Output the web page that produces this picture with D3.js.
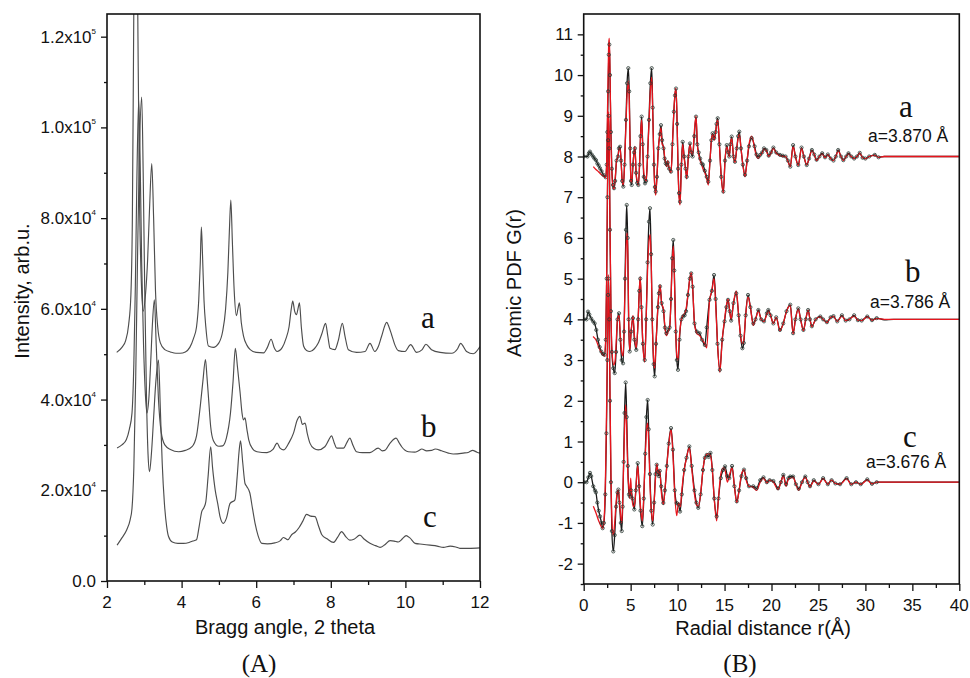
<!DOCTYPE html>
<html><head><meta charset="utf-8">
<script src="https://cdn.jsdelivr.net/npm/d3@7"></script>
<style>body{margin:0;background:#fff}svg{display:block}</style>
</head><body>
<svg id="chart" width="970" height="678"></svg>
<script>
// ---------- Panel A: XRD patterns (2theta, intensity) ----------
const xrdTicksX = [2, 4, 6, 8, 10, 12];
const xrdTicksY = [0, 20000, 40000, 60000, 80000, 100000, 120000];
const xrdTickLabelsY = [["0.0", ""], ["2.0x10", "4"], ["4.0x10", "4"], ["6.0x10", "4"], ["8.0x10", "4"], ["1.0x10", "5"], ["1.2x10", "5"]];
const xrdNames = ["a", "b", "c"];

const xrdA = [[2.26,50400],[2.40,51500],[2.50,53000],[2.58,56500],[2.64,63000],[2.68,80000],[2.71,115000],[2.74,150000],[2.77,165000],[2.80,150000],[2.83,120000],[2.87,85000],[2.92,66000],[2.97,59500],[3.03,63000],[3.09,71000],[3.14,82000],[3.20,92000],[3.25,80000],[3.30,64000],[3.36,56000],[3.43,52500],[3.55,51000],[3.70,50500],[3.85,50200],[3.96,50200],[4.10,50500],[4.22,51500],[4.32,53500],[4.40,56000],[4.46,62000],[4.50,70000],[4.53,78000],[4.56,72000],[4.60,62000],[4.65,56000],[4.72,51800],[4.85,51500],[5.00,52500],[5.10,55000],[5.18,60000],[5.24,68000],[5.28,77000],[5.32,84000],[5.36,75000],[5.41,64000],[5.47,58500],[5.51,60000],[5.55,61300],[5.60,57000],[5.66,54000],[5.75,52000],[5.84,51000],[6.00,50400],[6.20,50300],[6.30,51500],[6.40,53300],[6.48,51500],[6.56,50600],[6.70,51500],[6.80,53500],[6.88,56000],[6.94,60000],[6.98,61700],[7.03,59500],[7.08,58700],[7.12,60000],[7.16,61300],[7.21,56000],[7.27,51800],[7.35,50800],[7.44,50600],[7.56,51200],[7.66,52400],[7.76,54500],[7.86,56800],[7.92,54000],[7.98,51300],[8.11,51000],[8.20,53000],[8.31,56800],[8.38,54000],[8.47,51000],[8.69,50400],[8.92,50600],[9.05,52400],[9.18,50600],[9.28,51800],[9.36,53900],[9.50,57000],[9.56,56000],[9.63,54300],[9.72,52000],[9.81,50800],[9.99,50600],[10.14,52100],[10.30,50400],[10.45,51000],[10.55,52200],[10.70,51000],[10.93,50400],[11.24,50200],[11.40,51200],[11.48,52400],[11.64,50600],[11.82,50100],[12.00,51700]];

const xrdB = [[2.27,29300],[2.40,30000],[2.52,31200],[2.60,33500],[2.67,37000],[2.72,48000],[2.76,65000],[2.80,88000],[2.85,106000],[2.89,92000],[2.93,70000],[2.98,52000],[3.03,41000],[3.07,37000],[3.12,40000],[3.17,48000],[3.22,57000],[3.27,62000],[3.32,52000],[3.38,40000],[3.45,33000],[3.55,30000],[3.70,29000],[3.92,28500],[4.10,28800],[4.28,29600],[4.40,32000],[4.50,38500],[4.57,44000],[4.64,48800],[4.68,45000],[4.72,40600],[4.78,34000],[4.85,31000],[5.00,29700],[5.10,29800],[5.20,31500],[5.31,37000],[5.38,44000],[5.44,51300],[5.50,47000],[5.57,41400],[5.62,37000],[5.66,35500],[5.70,36000],[5.75,33500],[5.80,31100],[5.90,29200],[6.02,28500],[6.29,28300],[6.45,29000],[6.56,30400],[6.64,29300],[6.74,28900],[6.88,30500],[7.00,32600],[7.10,35500],[7.17,36300],[7.24,34500],[7.31,34800],[7.37,32500],[7.44,30400],[7.55,29200],[7.66,28900],[7.84,29600],[7.94,31000],[8.02,32000],[8.09,30500],[8.16,29300],[8.34,29300],[8.43,30500],[8.51,31500],[8.60,29800],[8.69,28500],[8.85,28300],[9.05,28300],[9.27,29300],[9.38,28700],[9.45,28800],[9.59,30400],[9.75,31500],[9.83,30500],[9.90,29600],[10.08,28500],[10.25,28400],[10.35,28700],[10.44,29100],[10.57,28700],[10.70,28800],[10.80,29100],[10.97,28700],[11.15,28200],[11.28,28000],[11.55,28200],[11.70,28400],[11.80,28800],[11.92,28400],[12.00,28200]];

const xrdC = [[2.27,7900],[2.40,9500],[2.53,11300],[2.62,13500],[2.67,16000],[2.72,25000],[2.77,45000],[2.82,72000],[2.87,95000],[2.93,106700],[2.97,90000],[3.01,65000],[3.06,40000],[3.10,28000],[3.14,24100],[3.19,28000],[3.25,36000],[3.31,44000],[3.38,48700],[3.43,38000],[3.48,26000],[3.54,17000],[3.60,12000],[3.65,9800],[3.75,8600],[3.90,8300],[4.05,8300],[4.20,8500],[4.30,8800],[4.40,9100],[4.47,12000],[4.54,15300],[4.60,16200],[4.65,17500],[4.71,23000],[4.78,29600],[4.83,25000],[4.90,20100],[4.97,17000],[5.03,14200],[5.12,12700],[5.20,13800],[5.30,17100],[5.43,17900],[5.49,23000],[5.54,28500],[5.58,30900],[5.64,26000],[5.70,21500],[5.75,20800],[5.83,19400],[5.90,16000],[5.97,12700],[6.05,10000],[6.15,8300],[6.30,8200],[6.50,8400],[6.65,8900],[6.73,9600],[6.80,9300],[6.85,9100],[6.95,10200],[7.05,10800],[7.15,11800],[7.25,13200],[7.35,14700],[7.46,14300],[7.58,14200],[7.66,12400],[7.76,10200],[7.90,9300],[8.07,8500],[8.18,9600],[8.29,10900],[8.40,9800],[8.51,9000],[8.62,9200],[8.78,10100],[8.90,9200],[9.05,8300],[9.20,7800],[9.32,7400],[9.45,8000],[9.59,8900],[9.70,8800],[9.81,8600],[9.92,9300],[10.02,10000],[10.12,9500],[10.26,8300],[10.45,8100],[10.66,7900],[10.85,7700],[11.02,7400],[11.20,7700],[11.35,7500],[11.46,7200],[11.70,7200],[12.00,7300]];

// ---------- Panel B: atomic PDF G(r) ----------
const pdfTicksX = [0, 5, 10, 15, 20, 25, 30, 35, 40];
const pdfTicksY = [-2, -1, 0, 1, 2, 3, 4, 5, 6, 7, 8, 9, 10, 11];
const pdfOffsets = [8, 4, 0];
const pdfNames = ["a", "b", "c"];
const pdfLattice = ["a=3.870 Å", "a=3.786 Å", "a=3.676 Å"];

const pdfObsA = [[0.0,0],[0.4,0],[0.55,0.08],[0.67,0.12],[0.85,0.05],[1.02,-0.005],[1.15,-0.05],[1.31,-0.09],[1.45,-0.17],[1.6,-0.22],[1.74,-0.29],[1.9,-0.36],[2.09,-0.45],[2.34,-0.51],[2.45,-0.2],[2.52,0.6],[2.6,1.6],[2.67,2.5],[2.73,2.75],[2.8,2.0],[2.9,0.6],[3.0,-0.3],[3.12,-0.7],[3.23,-0.78],[3.35,-0.6],[3.5,-0.1],[3.65,0.0],[3.75,0.2],[3.87,0.24],[3.98,-0.1],[4.1,-0.6],[4.22,-0.74],[4.35,-0.2],[4.5,0.9],[4.62,1.8],[4.75,2.17],[4.85,1.6],[4.95,0.2],[5.03,-0.6],[5.11,-0.7],[5.25,-0.2],[5.36,0.1],[5.46,0.2],[5.58,-0.4],[5.7,-0.65],[5.82,-0.7],[5.95,-0.2],[6.05,0.5],[6.17,0.98],[6.28,0.3],[6.4,-0.5],[6.53,-0.66],[6.65,-0.6],[6.8,0.0],[6.95,0.9],[7.1,1.8],[7.24,2.17],[7.35,1.2],[7.48,-0.2],[7.58,-0.75],[7.67,-0.86],[7.8,-0.5],[7.95,0.2],[8.1,0.55],[8.23,0.77],[8.35,0.4],[8.5,0.2],[8.62,-0.05],[8.73,-0.17],[8.85,-0.2],[8.95,-0.15],[9.1,-0.3],[9.3,-0.37],[9.45,0.3],[9.6,1.1],[9.72,1.5],[9.83,1.67],[9.95,0.8],[10.05,-0.3],[10.15,-0.9],[10.26,-1.11],[10.4,-0.2],[10.54,0.36],[10.7,0.0],[10.85,-0.3],[10.97,-0.5],[11.15,0.0],[11.32,0.32],[11.45,0.1],[11.6,0.0],[11.78,0.5],[11.96,0.98],[12.1,0.3],[12.25,0.1],[12.4,-0.05],[12.56,-0.17],[12.7,-0.2],[12.9,-0.35],[13.1,-0.5],[13.27,-0.62],[13.45,-0.1],[13.6,0.4],[13.73,0.57],[13.9,0.45],[14.05,0.6],[14.15,0.8],[14.27,0.94],[14.45,0.3],[14.65,-0.5],[14.87,-0.86],[15.05,-0.1],[15.23,0.28],[15.38,0.1],[15.5,0.0],[15.62,0.3],[15.76,0.49],[15.95,0.0],[16.11,-0.13],[16.3,0.2],[16.45,0.5],[16.57,0.61],[16.75,0.2],[16.95,-0.2],[17.18,-0.45],[17.4,-0.1],[17.6,0.25],[17.89,0.45],[18.2,0.25],[18.4,0.05],[18.6,-0.01],[18.8,0.04],[19.0,0.1],[19.2,0.2],[19.45,0.16],[19.7,0.02],[19.95,0.1],[20.2,0.22],[20.5,0.1],[20.9,0.04],[21.2,0.02],[21.5,0.0],[21.75,-0.1],[22.0,-0.25],[22.3,0.28],[22.55,0.0],[22.85,-0.21],[23.2,0.22],[23.45,0.0],[23.75,-0.21],[24.0,-0.05],[24.3,0.16],[24.55,0.05],[24.8,-0.08],[25.1,0.0],[25.4,0.08],[25.7,-0.02],[26.0,0.05],[26.3,-0.05],[26.6,-0.1],[26.85,0.0],[27.1,0.16],[27.4,0.0],[27.65,-0.09],[27.95,0.0],[28.2,0.08],[28.5,0.0],[28.8,-0.05],[29.1,0.0],[29.4,0.09],[29.7,-0.03],[30.0,-0.05],[30.4,0.0],[31.0,0.04],[31.4,-0.02],[32,0],[33,0],[34,0],[35,0],[36,0],[37,0],[38,0],[39,0],[40,0]];

const pdfFitA = [[1.02,-0.25],[1.3,-0.32],[1.6,-0.38],[1.9,-0.45],[2.2,-0.5],[2.34,-0.52],[2.45,-0.1],[2.52,0.9],[2.6,2.0],[2.67,2.8],[2.73,2.9],[2.8,2.1],[2.9,0.5],[3.0,-0.4],[3.12,-0.75],[3.23,-0.8],[3.35,-0.55],[3.5,-0.1],[3.65,0.0],[3.75,0.15],[3.87,0.22],[3.98,-0.1],[4.1,-0.6],[4.22,-0.7],[4.35,-0.2],[4.5,0.8],[4.62,1.5],[4.75,1.85],[4.85,1.4],[4.95,0.1],[5.03,-0.6],[5.11,-0.65],[5.25,-0.2],[5.36,0.1],[5.46,0.25],[5.58,-0.4],[5.7,-0.6],[5.82,-0.7],[5.95,-0.2],[6.05,0.5],[6.17,0.9],[6.28,0.3],[6.4,-0.4],[6.53,-0.55],[6.65,-0.6],[6.8,0.0],[6.95,0.8],[7.1,1.6],[7.24,1.95],[7.35,1.1],[7.48,-0.2],[7.58,-0.8],[7.67,-0.95],[7.8,-0.5],[7.95,0.2],[8.1,0.5],[8.23,0.7],[8.35,0.3],[8.5,0.25],[8.62,0.0],[8.73,-0.15],[8.85,-0.25],[8.95,-0.1],[9.1,-0.3],[9.3,-0.4],[9.45,0.3],[9.6,1.1],[9.72,1.55],[9.83,1.67],[9.95,0.8],[10.05,-0.3],[10.15,-1.0],[10.26,-1.19],[10.4,-0.3],[10.54,0.3],[10.7,-0.05],[10.85,-0.3],[10.97,-0.55],[11.15,0.0],[11.32,0.3],[11.45,0.1],[11.6,0.05],[11.78,0.6],[11.96,1.0],[12.1,0.3],[12.25,0.05],[12.4,-0.1],[12.56,-0.2],[12.7,-0.3],[12.9,-0.4],[13.1,-0.55],[13.27,-0.7],[13.45,-0.1],[13.6,0.4],[13.73,0.55],[13.9,0.4],[14.05,0.6],[14.15,0.8],[14.27,0.9],[14.45,0.3],[14.65,-0.5],[14.87,-0.9],[15.05,-0.1],[15.23,0.25],[15.38,0.1],[15.5,0.0],[15.62,0.3],[15.76,0.45],[15.95,0.0],[16.11,-0.15],[16.3,0.2],[16.45,0.45],[16.57,0.55],[16.75,0.2],[16.95,-0.2],[17.18,-0.5],[17.4,-0.1],[17.6,0.3],[17.89,0.5],[18.2,0.2],[18.4,0.0],[18.6,-0.05],[18.8,0.04],[19.0,0.08],[19.2,0.18],[19.45,0.14],[19.7,0.0],[19.95,0.08],[20.2,0.2],[20.5,0.08],[20.9,0.02],[21.2,0.0],[21.5,0.0],[21.75,-0.12],[22.0,-0.25],[22.3,0.25],[22.55,0.0],[22.85,-0.22],[23.2,0.2],[23.45,0.0],[23.75,-0.2],[24.0,-0.05],[24.3,0.14],[24.55,0.05],[24.8,-0.1],[25.1,0.0],[25.4,0.06],[25.7,-0.03],[26.0,0.04],[26.3,-0.05],[26.6,-0.1],[26.85,0.0],[27.1,0.14],[27.4,0.0],[27.65,-0.1],[27.95,0.0],[28.2,0.06],[28.5,0.0],[28.8,-0.05],[29.1,0.0],[29.4,0.08],[29.7,-0.03],[30.0,-0.05],[30.4,0.0],[31.0,0.03],[31.4,-0.02],[32,0],[40,0]];

const pdfObsB = [[0.0,0],[0.3,0],[0.46,0.19],[0.6,0.12],[0.8,0.02],[1.0,-0.05],[1.17,-0.1],[1.34,-0.26],[1.52,-0.5],[1.7,-0.68],[1.87,-0.79],[2.05,-0.85],[2.23,-0.87],[2.35,-0.5],[2.45,1.0],[2.53,3.0],[2.6,4.4],[2.66,5.0],[2.72,4.2],[2.8,2.2],[2.9,0.2],[3.0,-0.8],[3.15,-1.2],[3.3,-1.32],[3.45,-0.8],[3.6,0.0],[3.76,0.15],[3.9,-0.5],[4.05,-1.0],[4.19,-1.08],[4.3,-0.3],[4.4,1.0],[4.5,2.2],[4.58,2.81],[4.68,2.0],[4.78,0.0],[4.9,-0.79],[5.05,-0.3],[5.25,0.03],[5.4,-0.5],[5.6,-0.75],[5.8,0.0],[5.92,0.7],[6.02,1.0],[6.15,0.3],[6.3,-0.6],[6.5,-1.0],[6.65,0.0],[6.8,1.4],[6.95,2.4],[7.06,2.73],[7.18,1.6],[7.3,0.0],[7.45,-1.1],[7.56,-1.4],[7.7,-0.6],[7.9,0.3],[8.0,0.64],[8.13,0.81],[8.3,0.4],[8.5,0.2],[8.65,-0.2],[8.8,-0.34],[9.0,-0.25],[9.15,-0.2],[9.3,0.5],[9.42,1.5],[9.54,1.95],[9.65,1.2],[9.8,-0.3],[9.92,-1.0],[10.04,-1.24],[10.2,-0.5],[10.4,0.0],[10.57,0.07],[10.75,0.1],[10.9,0.2],[11.1,0.6],[11.3,1.0],[11.45,1.13],[11.6,0.8],[11.8,-0.1],[12.05,-0.3],[12.35,-0.34],[12.6,-0.5],[12.9,-0.63],[13.1,-0.2],[13.4,0.48],[13.65,0.7],[13.88,1.09],[14.05,0.5],[14.25,-0.6],[14.5,-1.24],[14.75,-0.5],[15.0,-0.05],[15.2,0.3],[15.37,0.48],[15.55,0.2],[15.7,-0.03],[15.95,0.4],[16.25,0.64],[16.5,0.1],[16.7,-0.4],[16.9,-0.71],[17.05,-0.58],[17.25,0.1],[17.5,0.6],[17.75,0.3],[18.06,-0.1],[18.3,0.0],[18.6,0.23],[18.9,0.0],[19.2,-0.05],[19.5,0.15],[19.66,0.23],[19.9,0.1],[20.2,-0.1],[20.5,0.05],[20.9,-0.26],[21.25,-0.1],[21.6,0.2],[22.0,0.36],[22.3,-0.34],[22.55,0.0],[22.85,0.27],[23.1,0.0],[23.4,-0.26],[23.65,0.0],[23.9,0.23],[24.1,0.0],[24.3,-0.17],[24.7,0.0],[25.2,0.07],[25.5,0.0],[25.9,-0.07],[26.3,0.05],[26.6,0.08],[27.0,-0.05],[27.5,0.1],[27.9,-0.03],[28.3,0.0],[28.8,0.1],[29.2,-0.02],[29.6,-0.03],[30.2,0.07],[30.7,-0.02],[31.2,0.03],[32.0,-0.01],[33,0],[34,0],[35,0],[36,0],[37,0],[38,0],[39,0],[40,0]];

const pdfFitB = [[0.99,-0.42],[1.3,-0.5],[1.6,-0.68],[2.0,-0.87],[2.2,-0.9],[2.35,-0.4],[2.45,1.2],[2.53,3.2],[2.6,4.6],[2.66,5.1],[2.72,4.3],[2.8,2.3],[2.9,0.3],[3.0,-0.7],[3.2,-1.12],[3.35,-1.0],[3.45,-0.6],[3.6,0.0],[3.76,0.1],[3.9,-0.4],[4.05,-0.8],[4.19,-0.9],[4.3,-0.3],[4.4,0.8],[4.5,1.7],[4.62,2.12],[4.7,1.6],[4.8,-0.1],[4.9,-0.75],[5.05,-0.3],[5.25,0.1],[5.4,-0.4],[5.6,-0.7],[5.8,0.0],[5.92,0.7],[6.02,1.05],[6.15,0.3],[6.3,-0.6],[6.5,-1.05],[6.65,0.0],[6.8,1.2],[6.95,1.9],[7.08,2.08],[7.2,1.3],[7.3,0.0],[7.45,-1.0],[7.56,-1.2],[7.7,-0.6],[7.9,0.3],[8.0,0.6],[8.13,0.85],[8.3,0.4],[8.5,0.25],[8.65,-0.2],[8.8,-0.4],[9.0,-0.3],[9.15,-0.2],[9.3,0.5],[9.42,1.4],[9.54,1.8],[9.65,1.1],[9.8,-0.3],[9.92,-0.9],[10.04,-1.0],[10.2,-0.4],[10.4,0.0],[10.57,0.1],[10.75,0.15],[10.9,0.25],[11.1,0.6],[11.3,1.0],[11.45,1.15],[11.6,0.8],[11.8,-0.1],[12.05,-0.35],[12.35,-0.4],[12.6,-0.5],[12.9,-0.6],[13.1,-0.7],[13.4,0.45],[13.65,0.7],[13.88,1.0],[14.05,0.4],[14.25,-0.6],[14.5,-1.3],[14.75,-0.5],[15.0,0.0],[15.2,0.35],[15.37,0.5],[15.55,0.2],[15.7,0.0],[15.95,0.4],[16.25,0.7],[16.5,0.1],[16.7,-0.4],[16.9,-0.6],[17.05,-0.5],[17.25,0.1],[17.5,0.55],[17.75,0.3],[18.06,-0.15],[18.3,0.0],[18.6,0.2],[18.9,0.0],[19.2,-0.05],[19.5,0.12],[19.66,0.2],[19.9,0.1],[20.2,-0.1],[20.5,0.05],[20.9,-0.28],[21.25,-0.1],[21.6,0.2],[22.0,0.34],[22.3,-0.36],[22.55,0.0],[22.85,0.25],[23.1,0.0],[23.4,-0.28],[23.65,0.0],[23.9,0.22],[24.1,0.0],[24.3,-0.18],[24.7,0.0],[25.2,0.06],[25.5,0.0],[25.9,-0.08],[26.3,0.05],[26.6,0.07],[27.0,-0.05],[27.5,0.08],[27.9,-0.03],[28.3,0.0],[28.8,0.08],[29.2,-0.02],[29.6,-0.03],[30.2,0.06],[30.7,-0.02],[31.2,0.02],[32,0],[40,0]];

const pdfObsC = [[0.0,0],[0.3,0],[0.5,0.12],[0.67,0.23],[0.8,0.15],[1.02,-0.1],[1.2,-0.2],[1.3,-0.25],[1.45,-0.5],[1.6,-0.7],[1.74,-0.84],[1.9,-1.0],[2.02,-1.13],[2.15,-1.0],[2.3,-0.3],[2.42,1.2],[2.52,3.0],[2.6,4.6],[2.65,5.0],[2.72,4.0],[2.8,2.0],[2.9,0.0],[3.0,-1.2],[3.15,-1.7],[3.3,-1.3],[3.45,-0.6],[3.6,-0.25],[3.69,-0.18],[3.8,-0.5],[3.95,-1.0],[4.05,-1.2],[4.15,-0.6],[4.25,0.5],[4.35,1.7],[4.47,2.45],[4.58,1.6],[4.7,0.4],[4.82,-0.3],[4.93,-0.35],[5.05,-0.2],[5.2,-0.4],[5.39,-0.67],[5.55,-0.2],[5.75,0.47],[5.9,-0.1],[6.05,-0.7],[6.24,-1.08],[6.4,-0.4],[6.55,0.7],[6.68,1.6],[6.81,2.02],[6.92,1.3],[7.05,0.2],[7.2,-0.7],[7.35,-1.04],[7.5,-0.5],[7.65,0.2],[7.77,0.43],[7.9,0.25],[8.0,0.15],[8.1,0.28],[8.25,-0.1],[8.48,-0.51],[8.65,-0.2],[8.85,0.4],[9.05,0.95],[9.3,1.33],[9.5,0.8],[9.7,-0.2],[9.9,-0.51],[10.1,-0.55],[10.26,-0.72],[10.45,-0.3],[10.7,0.3],[10.95,0.6],[11.25,0.88],[11.5,0.4],[11.8,-0.2],[12.0,-0.5],[12.2,-0.63],[12.45,-0.3],[12.7,0.3],[12.9,0.6],[13.1,0.67],[13.3,0.62],[13.5,0.72],[13.7,0.3],[13.9,-0.4],[14.16,-0.84],[14.35,-0.4],[14.6,0.1],[14.85,0.3],[15.05,0.39],[15.3,0.15],[15.5,0.1],[15.8,0.4],[16.05,-0.1],[16.3,-0.47],[16.55,-0.2],[16.8,0.15],[17.07,0.31],[17.3,0.1],[17.6,-0.1],[18.06,-0.1],[18.4,-0.15],[18.8,0.05],[19.15,0.12],[19.5,0.0],[19.8,0.05],[20.2,0.03],[20.7,-0.15],[21.0,0.0],[21.26,0.18],[21.55,-0.05],[21.8,0.1],[22.0,0.14],[22.3,0.14],[22.6,-0.05],[22.9,-0.16],[23.25,0.0],[23.6,0.14],[23.85,0.0],[24.1,-0.1],[24.5,0.05],[25.0,-0.05],[25.5,0.1],[26.0,-0.05],[26.4,0.05],[26.8,-0.03],[27.3,-0.05],[28.0,0.1],[28.5,-0.05],[29.0,0.0],[29.5,-0.05],[30.2,0.07],[30.7,-0.04],[31.2,0.0],[32,0],[33,0],[34,0],[35,0],[36,0],[37,0],[38,0],[39,0],[40,0]];

const pdfFitC = [[1.02,-0.59],[1.3,-0.75],[1.6,-0.95],[1.9,-1.1],[2.05,-1.13],[2.2,-0.8],[2.35,0.5],[2.45,2.0],[2.55,3.8],[2.62,5.1],[2.7,4.3],[2.8,2.2],[2.9,0.3],[3.0,-0.9],[3.15,-1.3],[3.3,-1.0],[3.45,-0.5],[3.6,-0.2],[3.7,-0.2],[3.85,-0.6],[4.05,-1.0],[4.15,-0.5],[4.25,0.4],[4.35,1.3],[4.47,1.9],[4.58,1.3],[4.7,0.2],[4.8,-0.1],[4.9,-0.4],[5.0,0.1],[5.1,-0.3],[5.3,-0.6],[5.45,-0.5],[5.6,0.0],[5.75,0.4],[5.9,-0.1],[6.05,-0.6],[6.24,-0.95],[6.4,-0.3],[6.55,0.6],[6.7,1.3],[6.81,1.45],[6.92,1.0],[7.05,0.0],[7.2,-0.7],[7.35,-0.95],[7.5,-0.5],[7.65,0.1],[7.8,0.45],[7.95,0.2],[8.1,0.3],[8.25,-0.2],[8.48,-0.55],[8.65,-0.2],[8.85,0.4],[9.05,0.9],[9.3,1.3],[9.5,0.7],[9.7,-0.3],[9.9,-0.82],[10.1,-0.5],[10.3,-0.6],[10.45,-0.2],[10.7,0.3],[10.95,0.6],[11.25,0.85],[11.5,0.35],[11.8,-0.3],[12.0,-0.55],[12.2,-0.6],[12.45,-0.3],[12.7,0.3],[12.9,0.6],[13.2,0.7],[13.5,0.65],[13.7,0.3],[13.9,-0.4],[14.16,-0.95],[14.35,-0.4],[14.6,0.2],[14.85,0.35],[15.05,0.3],[15.3,0.0],[15.55,0.2],[15.8,0.35],[16.05,-0.1],[16.3,-0.5],[16.55,-0.2],[16.8,0.2],[17.07,0.3],[17.3,0.05],[17.6,-0.1],[18.0,-0.12],[18.4,-0.2],[18.8,0.0],[19.15,0.1],[19.5,-0.02],[19.8,0.05],[20.2,0.0],[20.7,-0.18],[21.0,0.0],[21.26,0.15],[21.55,-0.1],[21.8,0.08],[22.0,0.1],[22.3,0.12],[22.6,-0.05],[22.9,-0.2],[23.25,0.0],[23.6,0.12],[23.85,0.0],[24.1,-0.12],[24.5,0.03],[25.0,-0.05],[25.5,0.08],[26.0,-0.05],[26.4,0.05],[26.8,-0.03],[27.3,-0.05],[28.0,0.08],[28.5,-0.05],[29.0,0.0],[29.5,-0.05],[30.2,0.05],[30.7,-0.04],[31.2,0.0],[32,0],[40,0]];

// ---------- drawing ----------
const svg = d3.select("#chart");
const SANS = "Arial, 'Liberation Sans', Helvetica, sans-serif";
const SERIF = "'Times New Roman', 'Liberation Serif', serif";

function frameAxes(g, x, y, opts) {
  const [x0, x1] = x.range(), [y0, y1] = y.range();
  const xa = d3.axisBottom(x).tickValues(opts.xMinor).tickSize(4).tickFormat("");
  g.append("g").attr("transform", `translate(0,${y0})`).call(xa).call(s => s.select(".domain").remove());
  const xA = d3.axisBottom(x).tickValues(opts.xMajor).tickSize(7).tickFormat("");
  g.append("g").attr("transform", `translate(0,${y0})`).call(xA).call(s => s.select(".domain").remove());
  const ya = d3.axisLeft(y).tickValues(opts.yMinor).tickSize(3).tickFormat("");
  g.append("g").attr("transform", `translate(${x0},0)`).call(ya).call(s => s.select(".domain").remove());
  const yA = d3.axisLeft(y).tickValues(opts.yMajor).tickSize(6).tickFormat("");
  g.append("g").attr("transform", `translate(${x0},0)`).call(yA).call(s => s.select(".domain").remove());
  g.selectAll(".tick line").attr("stroke", "#111").attr("stroke-width", 1.3);
  g.append("rect").attr("x", x0).attr("y", y1).attr("width", x1 - x0).attr("height", y0 - y1)
    .attr("fill", "none").attr("stroke", "#111").attr("stroke-width", 1.6);
  g.append("g").selectAll("text").data(opts.xMajor).join("text")
    .attr("x", d => x(d)).attr("y", y0 + 27).attr("text-anchor", "middle")
    .attr("font-family", SANS).attr("font-size", 17).attr("fill", "#111").text(d => d);
}

// Panel A
{
  const x = d3.scaleLinear([2, 12], [107, 480]);
  const y = d3.scaleLinear([0, 125000], [581, 14]);
  const g = svg.append("g");
  svg.append("clipPath").attr("id", "clipA").append("rect")
    .attr("x", 107).attr("y", 14).attr("width", 373).attr("height", 567);
  const line = d3.line().x(d => x(d[0])).y(d => y(d[1])).curve(d3.curveMonotoneX);
  const cg = g.append("g").attr("clip-path", "url(#clipA)");
  [xrdA, xrdB, xrdC].forEach(s => {
    cg.append("path").attr("d", line(s)).attr("fill", "none")
      .attr("stroke", "#4d4d4d").attr("stroke-width", 1.15);
  });
  frameAxes(g, x, y, {
    xMajor: xrdTicksX, xMinor: [3, 5, 7, 9, 11],
    yMajor: xrdTicksY, yMinor: [10000, 30000, 50000, 70000, 90000, 110000]
  });
  const yl = g.append("g").selectAll("text").data(xrdTicksY).join("text")
    .attr("x", 96).attr("y", d => y(d) + 6).attr("text-anchor", "end")
    .attr("font-family", SANS).attr("font-size", 17).attr("fill", "#111");
  yl.append("tspan").text((d, i) => xrdTickLabelsY[i][0]);
  yl.append("tspan").attr("dy", -9).attr("font-size", 8).text((d, i) => xrdTickLabelsY[i][1]);

  g.append("text").attr("transform", "translate(29,291) rotate(-90)").attr("text-anchor", "middle")
    .attr("font-family", SANS).attr("font-size", 20).attr("fill", "#111").text("Intensity, arb.u.");
  g.append("text").attr("x", 285).attr("y", 634).attr("text-anchor", "middle")
    .attr("font-family", SANS).attr("font-size", 20).attr("fill", "#111").text("Bragg angle, 2 theta");
  g.append("text").attr("x", 259).attr("y", 672).attr("text-anchor", "middle")
    .attr("font-family", SERIF).attr("font-size", 25).attr("fill", "#111").text("(A)");
  const lblPos = [[421, 328], [421, 437], [423, 527]];
  xrdNames.forEach((n, i) => g.append("text").attr("x", lblPos[i][0]).attr("y", lblPos[i][1])
    .attr("font-family", SERIF).attr("font-size", 31).attr("fill", "#111").text(n));
}

// Panel B
{
  const x = d3.scaleLinear([0, 40], [583.7, 959.3]);
  const y = d3.scaleLinear([-2.5, 11.5], [584, 14]);
  const g = svg.append("g");
  svg.append("clipPath").attr("id", "clipB").append("rect")
    .attr("x", 583.7).attr("y", 14).attr("width", 375.6).attr("height", 570);
  const cg = g.append("g").attr("clip-path", "url(#clipB)");
  const obs = [pdfObsA, pdfObsB, pdfObsC], fit = [pdfFitA, pdfFitB, pdfFitC];
  obs.forEach((s, i) => {
    const off = pdfOffsets[i];
    const line = d3.line().x(d => x(d[0])).y(d => y(d[1] + off)).curve(d3.curveMonotoneX);
    cg.append("path").attr("d", line(s)).attr("fill", "none").attr("stroke", "#1a1a1a").attr("stroke-width", 1.3);
    cg.append("path").attr("d", line(fit[i])).attr("fill", "none").attr("stroke", "#e8141c").attr("stroke-width", 1.3);
    cg.append("g").selectAll("circle").data(s.filter(d => d[0] < 31.5)).join("circle")
      .attr("cx", d => x(d[0])).attr("cy", d => y(d[1] + off)).attr("r", 1.6)
      .attr("fill", "none").attr("stroke", "#2b3a33").attr("stroke-width", 0.8);
  });
  frameAxes(g, x, y, { xMajor: pdfTicksX, xMinor: [2.5, 7.5, 12.5, 17.5, 22.5, 27.5, 32.5, 37.5],
    yMajor: pdfTicksY, yMinor: [-2.5,-1.5,-0.5,0.5,1.5,2.5,3.5,4.5,5.5,6.5,7.5,8.5,9.5,10.5] });
  g.append("g").selectAll("text").data(pdfTicksY).join("text")
    .attr("x", 573).attr("y", d => y(d) + 6).attr("text-anchor", "end")
    .attr("font-family", SANS).attr("font-size", 17).attr("fill", "#111").text(d => d);
  g.append("text").attr("transform", "translate(521,283) rotate(-90)").attr("text-anchor", "middle")
    .attr("font-family", SANS).attr("font-size", 20).attr("fill", "#111").text("Atomic PDF G(r)");
  g.append("text").attr("x", 763).attr("y", 635).attr("text-anchor", "middle")
    .attr("font-family", SANS).attr("font-size", 20).attr("fill", "#111").text("Radial distance r(Å)");
  g.append("text").attr("x", 740).attr("y", 672).attr("text-anchor", "middle")
    .attr("font-family", SERIF).attr("font-size", 25).attr("fill", "#111").text("(B)");
  const nPos = [[899, 117], [905, 282], [903, 447]];
  const lPos = [[868, 142], [870, 308], [866, 468]];
  pdfNames.forEach((n, i) => {
    g.append("text").attr("x", nPos[i][0]).attr("y", nPos[i][1])
      .attr("font-family", SERIF).attr("font-size", 31).attr("fill", "#111").text(n);
    g.append("text").attr("x", lPos[i][0]).attr("y", lPos[i][1])
      .attr("font-family", SANS).attr("font-size", 17.5).attr("fill", "#111").text(pdfLattice[i]);
  });
}
</script>
</body></html>
